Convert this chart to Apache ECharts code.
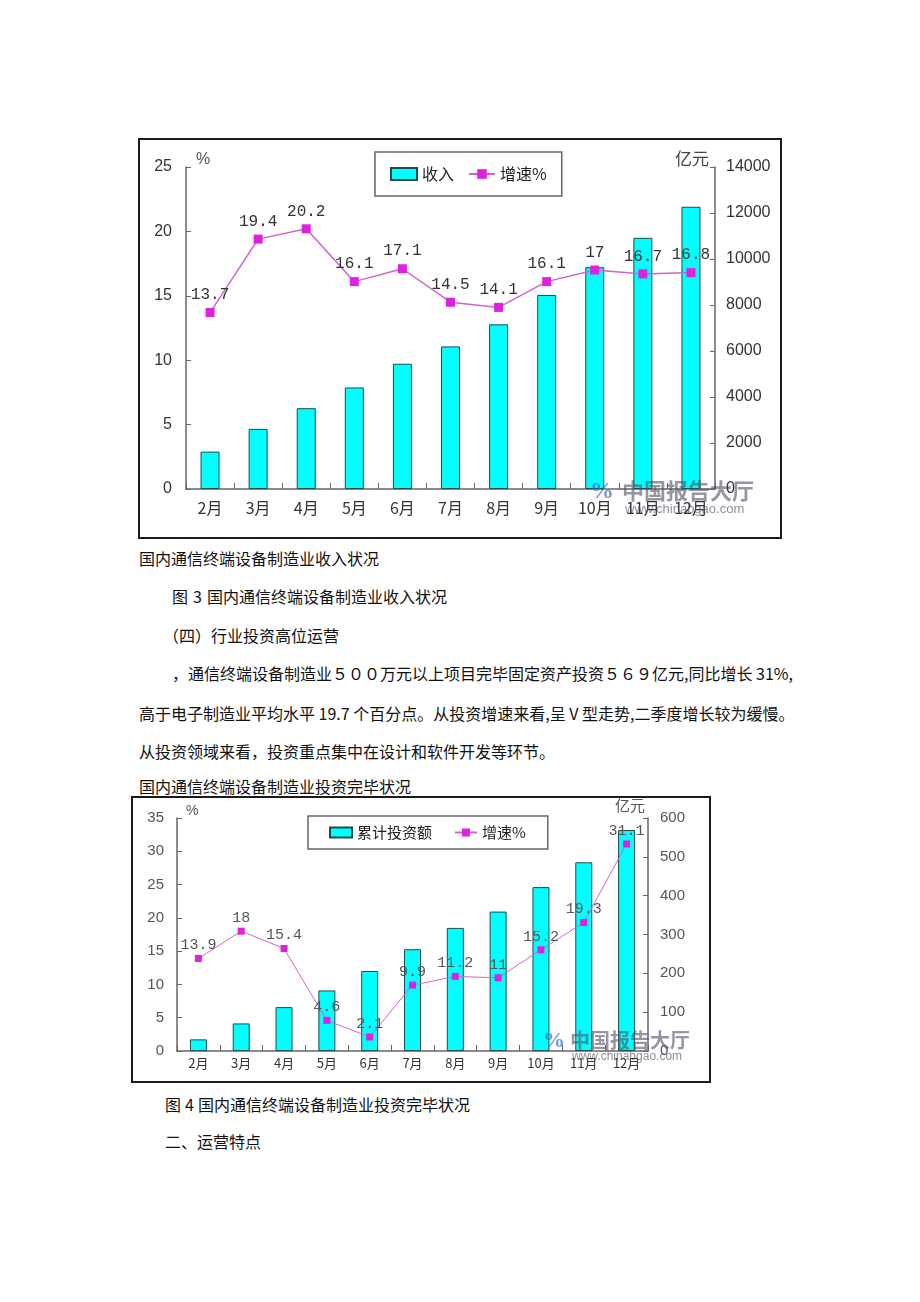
<!DOCTYPE html>
<html><head><meta charset="utf-8">
<script src="https://cdn.jsdelivr.net/npm/echarts@6/dist/echarts.min.js"></script>
<style>
html,body{margin:0;padding:0;background:#fff;}
body{width:920px;height:1302px;position:relative;overflow:hidden;font-family:"Noto Sans CJK SC",sans-serif;color:#111;}
.t{position:absolute;font-size:16px;line-height:20px;white-space:nowrap;}
.j{text-align:justify;text-align-last:justify;}
.frame{position:absolute;border:2px solid #1a1a1a;box-sizing:border-box;}
.chart{position:absolute;}
</style></head><body>
<div class="frame" style="left:138px;top:138px;width:644px;height:401px"></div>
<div id="c1" class="chart" style="left:140px;top:140px;width:640px;height:397px"></div>

<div class="t" style="left:139px;top:548px">国内通信终端设备制造业收入状况</div>
<div class="t" style="left:172px;top:586px">图<span style="margin:0 5px">3</span>国内通信终端设备制造业收入状况</div>
<div class="t" style="left:163px;top:625px">（四）行业投资高位运营</div>
<div class="t j" style="left:172px;top:663px;width:614px">，通信终端设备制造业５００万元以上项目完毕固定资产投资５６９亿元,同比增长 31%,</div>
<div class="t j" style="left:139px;top:703px;width:647px">高于电子制造业平均水平 19.7 个百分点。从投资增速来看,呈 V 型走势,二季度增长较为缓慢。</div>
<div class="t" style="left:139px;top:741px">从投资领域来看，投资重点集中在设计和软件开发等环节。</div>
<div class="t" style="left:139px;top:776px">国内通信终端设备制造业投资完毕状况</div>

<div class="frame" style="left:131px;top:796px;width:580px;height:287px"></div>
<div id="c2" class="chart" style="left:133px;top:798px;width:576px;height:283px"></div>

<div class="t" style="left:165px;top:1094px">图<span style="margin:0 4px">4</span>国内通信终端设备制造业投资完毕状况</div>
<div class="t" style="left:165px;top:1131px">二、运营特点</div>

<script>
// ---- data ----
const months = ['2月','3月','4月','5月','6月','7月','8月','9月','10月','11月','12月'];
// Figure 3: revenue (亿元, right axis) and growth (%, left axis)
const revenue = [1626, 2614, 3514, 4415, 5446, 6201, 7160, 8437, 9643, 10921, 12271];
const revenueGrowth = [13.7, 19.4, 20.2, 16.1, 17.1, 14.5, 14.1, 16.1, 17, 16.7, 16.8];
// Figure 4: cumulative investment (亿元, right axis) and growth (%, left axis)
const investment = [30, 71, 113, 156, 206, 262, 317, 359, 422, 486, 569];
const investmentGrowth = [13.9, 18, 15.4, 4.6, 2.1, 9.9, 11.2, 11, 15.2, 19.3, 31.1];
// axis ranges [min, max, interval]
const pctAxis1 = [0, 25, 5];
const amtAxis1 = [0, 14000, 2000];
const pctAxis2 = [0, 35, 5];
const amtAxis2 = [0, 600, 100];
const seriesNames1 = ['收入', '增速%'];
const seriesNames2 = ['累计投资额', '增速%'];

function build(c) {
  const axisLine = {show: true, lineStyle: {color: '#666', width: 1.5}};
  const tick = {show: true, inside: true, length: 5, lineStyle: {color: '#666'}};
  const plain = v => String(v);
  return {
    animation: false,
    grid: c.grid,
    legend: {
      left: c.legend.left, top: c.legend.top, padding: c.legend.padding,
      itemGap: c.legend.gap, itemWidth: c.legend.iw, itemHeight: c.legend.ih,
      borderColor: '#666', borderWidth: 1.5,
      textStyle: {fontSize: c.legend.fs, color: '#222', fontFamily: 'Noto Sans CJK SC'},
      data: [{name: c.names[0], icon: 'rect'}, {name: c.names[1]}]
    },
    xAxis: {
      type: 'category', data: months,
      axisLine: axisLine,
      axisTick: {show: true, inside: true, length: 6, lineStyle: {color: '#666'}},
      axisLabel: {margin: c.xMargin, fontSize: c.xfs, color: '#333', fontFamily: 'Noto Sans CJK SC'},
      splitLine: {show: false}
    },
    yAxis: [
      {type: 'value', min: c.pct[0], max: c.pct[1], interval: c.pct[2],
       axisLine: axisLine, axisTick: tick, splitLine: {show: false},
       axisLabel: {margin: c.lm, fontSize: c.yfs, color: c.ycol, fontFamily: 'Liberation Sans', formatter: plain}},
      {type: 'value', position: 'right', min: c.amt[0], max: c.amt[1], interval: c.amt[2],
       axisLine: axisLine, axisTick: tick, splitLine: {show: false},
       axisLabel: {margin: c.rm, fontSize: c.yfs, color: c.ycol, fontFamily: 'Liberation Sans', formatter: plain}}
    ],
    series: [
      {name: c.names[0], type: 'bar', yAxisIndex: 1, data: c.bars, barWidth: c.bw,
       itemStyle: {color: '#00ffff', borderColor: '#1d4d4d', borderWidth: 1}, z: 2},
      {name: c.names[1], type: 'line', yAxisIndex: 0, data: c.line,
       symbol: 'rect', symbolSize: c.ss,
       lineStyle: {color: '#cc66cc', width: c.lw},
       itemStyle: {color: '#e020e0'},
       label: {show: true, position: 'top', distance: c.ld, fontSize: c.lfs,
               fontFamily: 'Liberation Mono', color: c.lcol},
       z: 5}
    ],
    graphic: c.graphic.map(g => Object.assign({z: 100}, g))
  };
}

const c1 = echarts.init(document.getElementById('c1'));
c1.setOption(build({
  grid: {left: 46, right: 65, top: 27, bottom: 48},
  legend: {left: 235, top: 12, padding: [14, 15, 14, 15], gap: 14, iw: 26, ih: 12, fs: 16},
  names: seriesNames1, xMargin: 11, xfs: 16, yfs: 16, ycol: '#333', lm: 14, rm: 11,
  pct: pctAxis1, amt: amtAxis1, bars: revenue, line: revenueGrowth, bw: 19,
  ss: 9, lw: 1.5, ld: 5, lfs: 16, lcol: '#333',
  graphic: [
    {type: 'text', left: 56, top: 12, style: {text: '%', fontSize: 16, fill: '#555', fontFamily: 'Liberation Sans'}},
    {type: 'text', left: 535, top: 10, style: {text: '亿元', fontSize: 17, fill: '#444', fontFamily: 'Noto Sans CJK SC'}},
    {type: 'text', left: 450, top: 340, style: {text: '%', fontSize: 24, fontWeight: 'bold', fill: 'rgba(60,110,190,0.7)', fontFamily: 'Liberation Serif'}},
    {type: 'text', left: 482, top: 340, style: {text: '中国报告大厅', fontSize: 22, fontWeight: 'bold', fill: 'rgba(80,80,100,0.6)', fontFamily: 'Noto Sans CJK SC'}},
    {type: 'text', left: 485, top: 363, style: {text: 'www.chinabgao.com', fontSize: 13, fill: 'rgba(80,80,100,0.65)', fontFamily: 'Liberation Sans'}}
  ]
}));

const c2 = echarts.init(document.getElementById('c2'));
c2.setOption(build({
  grid: {left: 44, right: 61, top: 20, bottom: 30},
  legend: {left: 175, top: 18, padding: [9, 22, 9, 21], gap: 22, iw: 22, ih: 10, fs: 15},
  names: seriesNames2, xMargin: 6, xfs: 13, yfs: 15, ycol: '#555', lm: 13, rm: 12,
  pct: pctAxis2, amt: amtAxis2, bars: investment, line: investmentGrowth, bw: 17,
  ss: 7, lw: 1, ld: 2, lfs: 15, lcol: '#555',
  graphic: [
    {type: 'text', left: 53, top: 6, style: {text: '%', fontSize: 14, fill: '#555', fontFamily: 'Liberation Sans'}},
    {type: 'text', left: 482, top: 0, style: {text: '亿元', fontSize: 15, fill: '#555', fontFamily: 'Noto Sans CJK SC'}},
    {type: 'text', left: 410, top: 232, style: {text: '%', fontSize: 22, fontWeight: 'bold', fill: 'rgba(60,110,190,0.7)', fontFamily: 'Liberation Serif'}},
    {type: 'text', left: 437, top: 232, style: {text: '中国报告大厅', fontSize: 20, fontWeight: 'bold', fill: 'rgba(80,80,100,0.6)', fontFamily: 'Noto Sans CJK SC'}},
    {type: 'text', left: 439, top: 253, style: {text: 'www.chinabgao.com', fontSize: 12, fill: 'rgba(80,80,100,0.65)', fontFamily: 'Liberation Sans'}}
  ]
}));
</script>
</body></html>
